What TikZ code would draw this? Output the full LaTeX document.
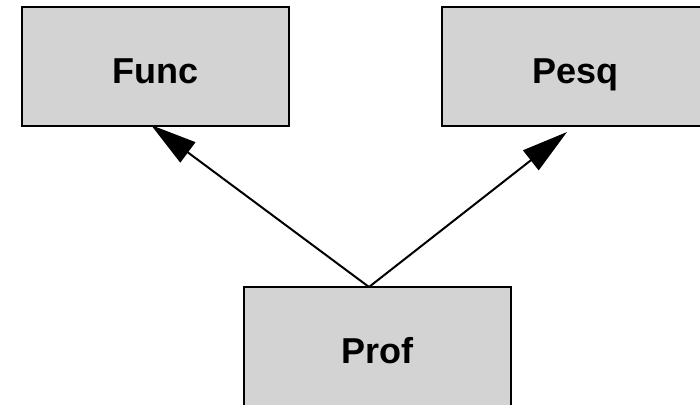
\documentclass[tikz,border=0pt]{standalone}
\usepackage{fontspec}
\setmainfont{Liberation Sans}
\usetikzlibrary{arrows.meta}
\definecolor{boxgray}{RGB}{211,211,211}
\begin{document}
\begin{tikzpicture}[x=1pt,y=-1pt,
  classbox/.style={draw=black, line width=2.6pt, fill=boxgray, rectangle,
    minimum width=267pt, minimum height=119pt, inner sep=0pt,
    text height=33pt, text depth=0pt,
    font=\fontsize{36}{40}\selectfont\bfseries},
  link/.style={line width=2pt, -{Triangle[length=46pt,width=25pt]}}]
  \useasboundingbox (0,0) rectangle (700,404);
  \clip (0,0) rectangle (700,404);
  % class boxes
  \node[classbox] (func) at (155.5,66.5) {Func};
  \node[classbox] (pesq) at (575.5,66.5) {Pesq};
  \node[classbox] (prof) at (377.5,346.5) {Prof};
  % arrow end points
  \coordinate (apex) at (369,287);
  \coordinate (functip) at (151,125);
  \coordinate (pesqtip) at (567,132);
  \draw[link] (apex) -- (functip);
  \draw[link] (apex) -- (pesqtip);
\end{tikzpicture}
\end{document}
